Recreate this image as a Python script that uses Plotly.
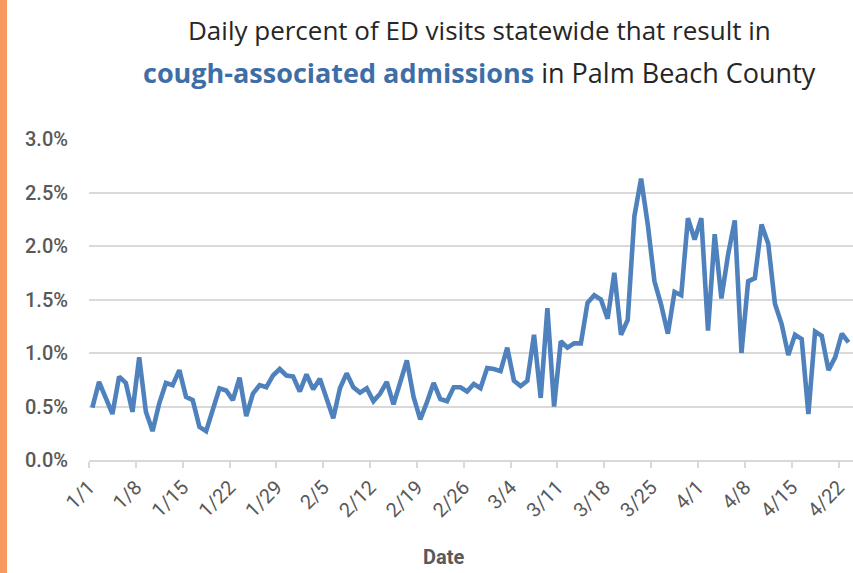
import pandas as pd
import plotly.graph_objects as go

# daily share of ED visits (%), 1/1/2020 .. 4/23/2020
pct = [
    0.49, 0.73, 0.58, 0.43, 0.78, 0.72, 0.45, 0.96, 0.45, 0.27,
    0.53, 0.72, 0.70, 0.84, 0.59, 0.56, 0.31, 0.27, 0.47, 0.67,
    0.65, 0.56, 0.77, 0.41, 0.62, 0.70, 0.68, 0.79, 0.85, 0.79,
    0.78, 0.64, 0.80, 0.66, 0.76, 0.56, 0.39, 0.67, 0.81, 0.68,
    0.63, 0.67, 0.55, 0.62, 0.73, 0.52, 0.71, 0.93, 0.59, 0.38,
    0.54, 0.72, 0.57, 0.55, 0.68, 0.68, 0.64, 0.71, 0.67, 0.86,
    0.85, 0.83, 1.05, 0.74, 0.69, 0.74, 1.17, 0.58, 1.42, 0.50,
    1.11, 1.05, 1.09, 1.09, 1.47, 1.54, 1.50, 1.32, 1.75, 1.17,
    1.31, 2.28, 2.63, 2.20, 1.67, 1.45, 1.18, 1.57, 1.54, 2.26,
    2.06, 2.26, 1.21, 2.11, 1.51, 1.92, 2.24, 1.00, 1.67, 1.70,
    2.20, 2.02, 1.46, 1.27, 0.98, 1.17, 1.13, 0.43, 1.20, 1.16,
    0.84, 0.96, 1.18, 1.10,
]
dates = pd.date_range("2020-01-01", periods=len(pct), freq="D")
y_ticks = [0, 0.5, 1.0, 1.5, 2.0, 2.5, 3.0]
y_labels = [f"{v:.1f}%" for v in y_ticks]

W, H = 853, 573
L, R, T, B = 89, 0, 139, 113
pw, ph = W - L - R, H - T - B

grey = "#595959"
title_font = "Open Sans, sans-serif"
narrow = "Liberation Sans Narrow, Roboto, sans-serif"


def px_y(y):
    # pixel row -> paper coordinate
    return (H - B - y) / ph


fig = go.Figure()
fig.add_trace(go.Scatter(
    x=dates, y=pct, mode="lines",
    xperiod=86400000, xperiodalignment="middle",
    line=dict(color="#4F81BD", width=4.6),
    hoverinfo="skip",
))

fig.update_layout(
    width=W, height=H,
    margin=dict(l=L, r=R, t=T, b=B),
    paper_bgcolor="white", plot_bgcolor="white",
    showlegend=False,
    font=dict(family="Roboto, sans-serif", color=grey),
    xaxis=dict(
        type="date",
        range=["2020-01-01", "2020-04-24 04:00"],
        tick0="2020-01-01", dtick=7 * 86400000,
        tickformat="%-m/%-d", tickangle=-45,
        ticks="outside", ticklen=6, tickcolor="#D9D9D9", tickwidth=1.5,
        showline=True, linecolor="#D9D9D9", linewidth=1.5,
        showgrid=False, zeroline=False,
        tickfont=dict(size=20, color=grey, family=narrow),
        fixedrange=True,
    ),
    yaxis=dict(
        range=[0, 3.0],
        tickvals=y_ticks, ticktext=y_labels,
        showgrid=True, gridcolor="#D9D9D9", gridwidth=1.5,
        zeroline=False, showline=False, ticks="",
        ticklabelstandoff=20,
        tickfont=dict(size=20, color=grey, family="Roboto, sans-serif", weight=500),
        fixedrange=True,
    ),
    shapes=[dict(
        type="rect", xref="paper", yref="paper",
        x0=-L / pw, x1=-(L - 7) / pw, y0=-B / ph, y1=1 + T / ph,
        fillcolor="#F79A62", line=dict(width=0), layer="below",
    )],
    annotations=[
        dict(
            text="Daily percent of ED visits statewide that result in",
            xref="paper", yref="paper", x=(479 - L) / pw, y=px_y(30),
            xanchor="center", yanchor="middle", showarrow=False,
            font=dict(size=26, color="#262626", family=title_font),
        ),
        dict(
            text="<b><span style='color:#3F6EA6'>cough-associated admissions</span></b>"
                 " in Palm Beach County",
            xref="paper", yref="paper", x=(479 - L) / pw, y=px_y(72),
            xanchor="center", yanchor="middle", showarrow=False,
            font=dict(size=27, color="#262626", family=title_font),
        ),
        dict(
            text="<b>Date</b>", xref="paper", yref="paper",
            x=(443 - L) / pw, y=px_y(557),
            xanchor="center", yanchor="middle", showarrow=False,
            font=dict(size=20, color=grey, family=narrow),
        ),
    ],
)

fig.write_html("out.html", config={"displayModeBar": False},
               post_script="document.body.style.margin='0';")
